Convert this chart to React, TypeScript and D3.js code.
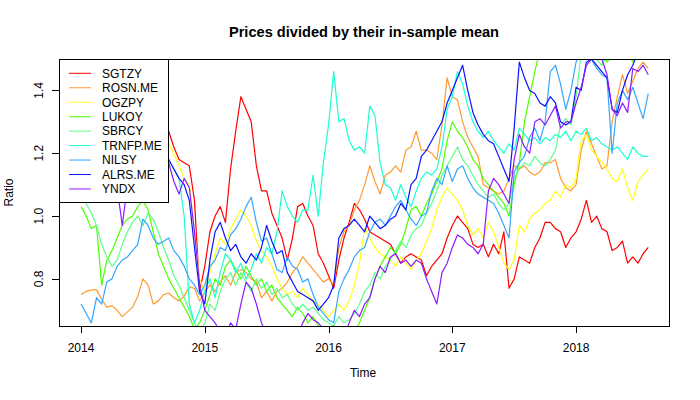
import * as d3 from "d3";

// half-month samples from Jan 2014 to late Jul 2018 (111 points each)
const startYear = 2014;
const stepYears = 1 / 24;

const seriesNames = [
  "SGTZY",
  "ROSN.ME",
  "OGZPY",
  "LUKOY",
  "SBRCY",
  "TRNFP.ME",
  "NILSY",
  "ALRS.ME",
  "YNDX",
];

const seriesColors = [
  "#ff0000",
  "#ff9a33",
  "#ffff1a",
  "#4dff00",
  "#5cff8a",
  "#1affd0",
  "#33a6ff",
  "#0a14ff",
  "#8c1aff",
];

const sgtzy = [
  1.28, 1.30, 1.27, 1.29, 1.31, 1.28, 1.30, 1.33, 1.31, 1.29,
  1.32, 1.30, 1.27, 1.29, 1.26, 1.28, 1.25, 1.27, 1.22, 1.18,
  1.17, 1.16, 1.05, 0.76, 0.84, 0.95, 1.00, 1.03, 0.98, 1.15,
  1.27, 1.38, 1.34, 1.30, 1.16, 1.08, 1.08, 1.01, 0.97, 0.93,
  0.86, 0.93, 1.03, 1.04, 1.00, 0.97, 0.88, 0.85, 0.81, 0.77,
  0.86, 0.93, 0.98, 1.04, 1.02, 0.99, 0.95, 0.94, 0.93, 0.92,
  0.91, 0.88, 0.85, 0.87, 0.88, 0.87, 0.86, 0.81, 0.84, 0.86,
  0.88, 0.93, 0.97, 1.00, 0.98, 0.96, 0.91, 0.90, 0.91, 0.87,
  0.91, 0.88, 0.95, 0.77, 0.80, 0.87, 0.86, 0.85, 0.90, 0.93,
  0.98, 0.98, 0.96, 0.95, 0.90, 0.93, 0.95, 0.99, 1.05, 0.98,
  1.00, 0.96, 0.95, 0.89, 0.90, 0.92, 0.85, 0.87, 0.85, 0.88,
  0.90,
];

const rosn = [
  0.75, 0.76, 0.765, 0.765, 0.735, 0.71, 0.715, 0.70, 0.68, 0.695,
  0.71, 0.745, 0.80, 0.78, 0.72, 0.73, 0.75, 0.755, 0.74, 0.73,
  0.745, 0.775, 0.77, 0.73, 0.76, 0.78, 0.76, 0.79, 0.81, 0.78,
  0.82, 0.83, 0.82, 0.80, 0.79, 0.74, 0.76, 0.73, 0.76, 0.77,
  0.79, 0.82, 0.84, 0.87, 0.85, 0.83, 0.81, 0.79, 0.80, 0.78,
  0.90, 0.95, 0.97, 1.02, 1.05, 1.10, 1.16, 1.11, 1.07, 1.13,
  1.14, 1.16, 1.14, 1.21, 1.22, 1.27, 1.21, 1.21, 1.20, 1.18,
  1.29, 1.44, 1.38, 1.37, 1.30, 1.25, 1.22, 1.19, 1.10, 1.09,
  1.08, 1.07, 1.08, 1.12, 1.16, 1.15, 1.16, 1.14, 1.13, 1.14,
  1.17, 1.17, 1.18, 1.12, 1.09, 1.08, 1.10, 1.21, 1.27, 1.23,
  1.19, 1.15, 1.16, 1.30, 1.38, 1.45, 1.39, 1.43, 1.47, 1.49,
  1.47,
];

const ogzpy = [
  1.20, 1.22, 1.19, 1.21, 1.24, 1.22, 1.25, 1.27, 1.24, 1.22,
  1.26, 1.25, 1.23, 1.26, 1.24, 1.22, 1.24, 1.23, 1.20, 1.16,
  1.12, 1.10, 0.95, 0.80, 0.76, 0.82, 0.88, 0.93, 0.91, 0.96,
  0.99, 1.02, 1.00, 0.97, 0.92, 0.89, 0.87, 0.84, 0.80, 0.77,
  0.75, 0.76, 0.74, 0.77, 0.75, 0.73, 0.72, 0.70, 0.68, 0.70,
  0.72, 0.70, 0.73, 0.78, 0.85, 0.96, 0.93, 0.90, 0.88, 0.87,
  0.86, 0.84, 0.87, 0.85, 0.83, 0.86, 0.88, 0.92, 0.96, 1.02,
  1.06, 1.09, 1.07, 1.05, 1.02, 0.97, 0.94, 0.96, 0.93, 0.98,
  0.95, 0.90, 0.85, 0.83, 0.86, 0.97, 0.95, 0.99, 1.01, 1.02,
  1.04, 1.05, 1.08, 1.06, 1.10, 1.09, 1.12, 1.24, 1.26, 1.21,
  1.19, 1.17, 1.15, 1.12, 1.11, 1.15, 1.09, 1.05, 1.11, 1.13,
  1.15,
];

const lukoy = [
  1.03, 1.00, 0.96, 0.97, 0.78, 0.86, 0.89, 0.93, 0.97, 0.99,
  1.00, 1.03, 1.05, 1.02, 0.95, 0.88, 0.84, 0.80, 0.77, 0.74,
  0.71, 0.68, 0.64, 0.66, 0.70, 0.75, 0.80, 0.78, 0.84, 0.86,
  0.83, 0.80, 0.84, 0.81, 0.78, 0.80, 0.76, 0.78, 0.74, 0.72,
  0.70, 0.68, 0.71, 0.69, 0.66, 0.68, 0.65, 0.63, 0.62, 0.61,
  0.63, 0.62, 0.64, 0.63, 0.66, 0.70, 0.74, 0.80, 0.84, 0.87,
  0.90, 0.88, 0.91, 0.96, 1.02, 1.03, 1.00, 1.04, 1.07, 1.11,
  1.15, 1.24, 1.30, 1.27, 1.25, 1.22, 1.18, 1.16, 1.12, 1.10,
  1.08, 1.06, 1.04, 1.00, 1.10, 1.17, 1.30, 1.38, 1.46, 1.53,
  1.55, 1.52, 1.56, 1.58, 1.55, 1.53, 1.56, 1.60, 1.58, 1.56,
  1.55, 1.52, 1.49, 1.51, 1.54, 1.56, 1.52, 1.49, 1.53, 1.55,
  1.56,
];

const sbrcy = [
  1.08, 1.04, 1.01, 0.97, 0.91, 0.87, 0.84, 0.86, 0.91, 0.95,
  0.98, 1.00, 0.97, 1.01, 0.99, 0.95, 0.90, 0.86, 0.81, 0.78,
  0.74, 0.70, 0.66, 0.63, 0.66, 0.72, 0.70, 0.76, 0.80, 0.82,
  0.78, 0.82, 0.79, 0.76, 0.80, 0.77, 0.79, 0.75, 0.77, 0.74,
  0.75, 0.72, 0.70, 0.72, 0.70, 0.71, 0.69, 0.67, 0.66, 0.65,
  0.68, 0.66, 0.67, 0.69, 0.72, 0.76, 0.78, 0.82, 0.80, 0.84,
  0.86, 0.89, 0.92, 0.90, 0.94, 0.96, 0.97, 1.01, 1.04, 1.08,
  1.13, 1.16, 1.19, 1.22, 1.18, 1.16, 1.13, 1.10, 1.08, 1.06,
  1.07, 1.04, 1.02, 1.04, 1.12, 1.15, 1.17, 1.16, 1.19, 1.17,
  1.16, 1.18, 1.21, 1.29, 1.31, 1.29, 1.38, 1.52, 1.55, 1.53,
  1.50, 1.48, 1.51, 1.54, 1.52, 1.50, 1.53, 1.56, 1.54, 1.52,
  1.55,
];

const trnfp = [
  1.12, 1.15, 1.13, 1.17, 1.20, 1.18, 1.16, 1.19, 1.22, 1.20,
  1.18, 1.21, 1.15, 1.17, 1.19, 1.16, 1.20, 1.18, 1.15, 1.12,
  1.00, 0.72, 0.66, 0.70, 0.76, 0.80, 0.74, 0.82, 0.88, 0.86,
  0.82, 0.85, 0.80, 0.83, 0.88, 0.85, 0.90, 0.88, 0.95, 1.08,
  1.03, 1.00, 0.98, 1.02, 1.02, 1.13, 1.00, 1.17, 1.29, 1.46,
  1.30, 1.31, 1.24, 1.21, 1.22, 1.20, 1.35, 1.32, 1.17, 1.10,
  1.09, 1.05, 1.10, 1.06, 1.03, 1.08, 1.12, 1.14, 1.13, 1.15,
  1.22, 1.34, 1.38, 1.46, 1.42, 1.35, 1.30, 1.27, 1.25, 1.27,
  1.24, 1.22, 1.20, 1.23, 1.21, 1.28, 1.26, 1.24, 1.25, 1.23,
  1.25, 1.24, 1.26, 1.25, 1.27, 1.24, 1.27, 1.26, 1.28, 1.24,
  1.25, 1.23, 1.22, 1.21, 1.22, 1.20, 1.18, 1.22, 1.20, 1.19,
  1.19,
];

const nilsy = [
  0.72, 0.69, 0.66, 0.74, 0.72, 0.79, 0.80, 0.84, 0.86, 0.87,
  0.89, 0.91, 0.99, 0.97, 0.93, 0.91, 0.92, 0.93, 0.89, 0.87,
  0.84, 0.80, 0.78, 0.75, 0.78, 0.84, 0.86, 0.90, 0.89, 0.94,
  0.96, 0.99, 1.03, 1.06, 0.98, 0.92, 0.93, 0.88, 0.83, 0.82,
  0.87, 0.84, 0.83, 0.79, 0.80, 0.75, 0.71, 0.69, 0.67, 0.66,
  0.76, 0.80, 0.83, 0.87, 0.89, 0.90, 0.95, 0.98, 0.99, 0.97,
  1.00, 1.03, 1.05, 1.02, 0.99, 0.97, 1.00, 1.01, 1.08, 1.12,
  1.10, 1.16, 1.11, 1.15, 1.16, 1.12, 1.09, 1.07, 1.06, 1.05,
  1.04, 1.01, 0.97, 0.93, 1.14, 1.17, 1.19, 1.25, 1.28, 1.24,
  1.30, 1.46, 1.48, 1.42, 1.34, 1.40, 1.49, 1.53, 1.55, 1.50,
  1.47, 1.45, 1.44, 1.20, 1.36, 1.40, 1.37, 1.41, 1.36, 1.31,
  1.39,
];

const alrs = [
  1.12, 1.10, 1.14, 1.11, 1.15, 1.18, 1.16, 1.13, 1.17, 1.20,
  1.22, 1.19, 1.21, 1.24, 1.20, 1.22, 1.19, 1.18, 1.15, 1.12,
  1.10, 1.05, 0.90, 0.76, 0.72, 0.86, 0.95, 0.98, 0.93, 0.89,
  0.91, 0.87, 0.85, 0.88, 0.86, 0.90, 0.97, 0.92, 0.88, 0.89,
  0.82, 0.79, 0.76, 0.75, 0.74, 0.73, 0.70, 0.72, 0.74, 0.78,
  0.93, 0.96, 0.97, 0.99, 0.97, 0.95, 1.00, 0.98, 0.96, 0.97,
  0.99, 1.00, 1.04, 1.02, 1.10, 1.12, 1.19, 1.21, 1.24, 1.27,
  1.30, 1.36, 1.40, 1.44, 1.48, 1.40, 1.33, 1.29, 1.26, 1.24,
  1.23, 1.19, 1.15, 1.11, 1.28, 1.49, 1.44, 1.40, 1.39, 1.36,
  1.35, 1.38, 1.36, 1.30, 1.29, 1.30, 1.41, 1.40, 1.49, 1.50,
  1.48, 1.46, 1.44, 1.34, 1.33, 1.40, 1.45, 1.48, 1.52, 1.54,
  1.53,
];

const yndx = [
  1.10, 1.12, 1.08, 1.11, 1.14, 1.10, 1.12, 1.09, 0.97, 1.10,
  1.13, 1.15, 1.18, 1.20, 1.22, 1.19, 1.21, 1.17, 1.11, 1.07,
  1.12, 1.09, 0.95, 0.78, 0.70, 0.68, 0.66, 0.63, 0.62, 0.66,
  0.64, 0.72, 0.79, 0.77, 0.72, 0.66, 0.62, 0.60, 0.58, 0.57,
  0.58, 0.60, 0.62, 0.66, 0.69, 0.67, 0.66, 0.64, 0.63, 0.65,
  0.63, 0.62, 0.66, 0.70, 0.68, 0.72, 0.74, 0.80, 0.84, 0.82,
  0.87, 0.88, 0.85, 0.86, 0.84, 0.86, 0.85, 0.80, 0.76, 0.72,
  0.82, 0.85, 0.90, 0.94, 0.93, 0.91, 0.90, 0.88, 0.91, 1.08,
  1.12, 1.10, 1.07, 1.04, 1.18, 1.26, 1.22, 1.20, 1.30, 1.31,
  1.29, 1.32, 1.35, 1.28, 1.30, 1.30, 1.36, 1.41, 1.48, 1.50,
  1.52, 1.50, 1.45, 1.34, 1.32, 1.36, 1.33, 1.47, 1.46, 1.48,
  1.45,
];

const seriesValues = [sgtzy, rosn, ogzpy, lukoy, sbrcy, trnfp, nilsy, alrs, yndx];

const yearTicks = [2014, 2015, 2016, 2017, 2018];
const ratioTicks = [0.8, 1.0, 1.2, 1.4];

const W = 700;
const H = 400;
const plot = { left: 59, right: 669, top: 59, bottom: 326 };
const font = "'Liberation Sans', Arial, Helvetica, sans-serif";

export default function App() {
  const x = d3.scaleLinear().domain([2013.822, 2018.751]).range([plot.left, plot.right]);
  const y = d3.scaleLinear().domain([0.65, 1.5]).range([plot.bottom, plot.top]);

  const line = d3
    .line<number>()
    .x((_, i) => x(startYear + i * stepYears))
    .y((d) => y(d));

  const legendTop = 73.3;
  const legendStep = 14.46;

  return (
    <svg
      width={W}
      height={H}
      viewBox={`0 0 ${W} ${H}`}
      style={{ position: "absolute", left: 0, top: 0, background: "#fff", display: "block" }}
      fontFamily={font}
    >
      <defs>
        <clipPath id="plotClip">
          <rect x={plot.left} y={plot.top} width={plot.right - plot.left} height={plot.bottom - plot.top} />
        </clipPath>
      </defs>
      <rect x={0} y={0} width={W} height={H} fill="#fff" />

      {/* series, drawn in column order like ts.plot */}
      <g clipPath="url(#plotClip)">
        {seriesValues.map((vals, k) => (
          <path
            key={seriesNames[k]}
            d={line(vals) ?? ""}
            fill="none"
            stroke={seriesColors[k]}
            strokeWidth={1.2}
            strokeLinejoin="round"
          />
        ))}
      </g>

      {/* plot box */}
      <rect
        x={plot.left + 0.5}
        y={plot.top + 0.5}
        width={plot.right - plot.left}
        height={plot.bottom - plot.top}
        fill="none"
        stroke="#000"
      />

      {/* x axis */}
      <line x1={x(2014)} x2={x(2018)} y1={plot.bottom + 0.5} y2={plot.bottom + 0.5} stroke="#000" />
      {yearTicks.map((t) => (
        <g key={t}>
          <line x1={Math.round(x(t)) + 0.5} x2={Math.round(x(t)) + 0.5} y1={plot.bottom} y2={plot.bottom + 7} stroke="#000" />
          <text x={x(t)} y={351.5} fontSize={12} textAnchor="middle" fill="#000">
            {t}
          </text>
        </g>
      ))}

      {/* y axis */}
      <line x1={plot.left + 0.5} x2={plot.left + 0.5} y1={y(0.8)} y2={y(1.4)} stroke="#000" />
      {ratioTicks.map((t) => (
        <g key={t}>
          <line x1={plot.left - 7} x2={plot.left} y1={Math.round(y(t)) + 0.5} y2={Math.round(y(t)) + 0.5} stroke="#000" />
          <text
            transform={`translate(43,${y(t)}) rotate(-90)`}
            fontSize={12}
            textAnchor="middle"
            fill="#000"
          >
            {t.toFixed(1)}
          </text>
        </g>
      ))}

      {/* titles */}
      <text x={364} y={37.3} fontSize={14.6} fontWeight="bold" textAnchor="middle" fill="#000">
        Prices divided by their in-sample mean
      </text>
      <text x={363} y={376.7} fontSize={12} textAnchor="middle" fill="#000">
        Time
      </text>
      <text transform={`translate(13.3,${(plot.top + plot.bottom) / 2}) rotate(-90)`} fontSize={12} textAnchor="middle" fill="#000">
        Ratio
      </text>

      {/* legend */}
      <rect x={plot.left + 0.5} y={plot.top + 0.5} width={109} height={143} fill="#fff" stroke="#000" />
      {seriesNames.map((name, k) => {
        const cy = legendTop + k * legendStep;
        return (
          <g key={name}>
            <line x1={69} x2={91} y1={cy} y2={cy} stroke={seriesColors[k]} strokeWidth={1} />
            <text x={102} y={cy + 4.3} fontSize={12} fill="#000">
              {name}
            </text>
          </g>
        );
      })}
    </svg>
  );
}
